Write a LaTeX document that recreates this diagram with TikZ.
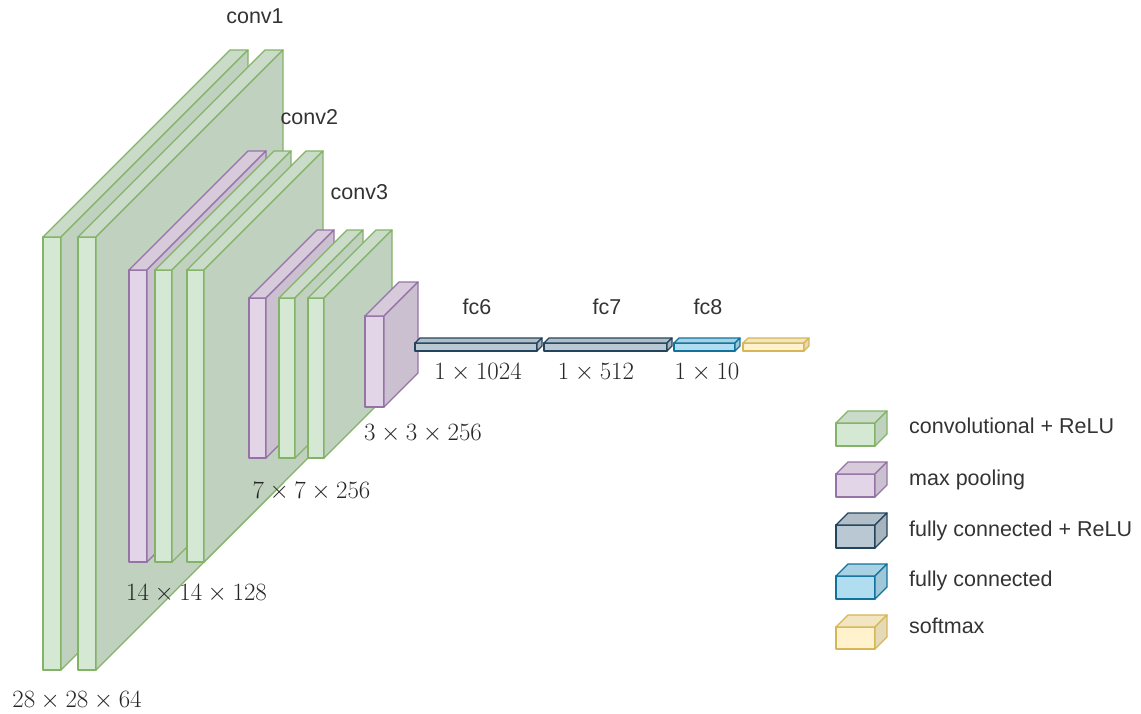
\documentclass[tikz,border=0pt]{standalone}
\usepackage{fontspec}
\newfontfamily\labelfont{Liberation Sans}
\definecolor{convF}{HTML}{D5E8D4}\definecolor{convD}{HTML}{82B366}
\definecolor{poolF}{HTML}{E1D5E7}\definecolor{poolD}{HTML}{9673A6}
\definecolor{fcrF}{HTML}{BAC8D3}\definecolor{fcrD}{HTML}{23445D}
\definecolor{fcF}{HTML}{B1DDF0}\definecolor{fcD}{HTML}{10739E}
\definecolor{smF}{HTML}{FFF2CC}\definecolor{smD}{HTML}{D6B656}
\definecolor{txt}{HTML}{333333}
\tikzset{
  face/.style={line width=1.3pt, line join=round},
  sanslabel/.style={font=\labelfont\fontsize{21.5}{26}\selectfont, text=txt, inner sep=0pt},
  dimlabel/.style={font=\fontsize{24}{28}\selectfont, text=black!85, inner sep=0pt, anchor=base},
}
% x1, y1 (top), x2, y2 (bottom), depth, colour prefix
\newcommand\drawcuboid[6]{%
  \filldraw[face, draw=#6D, fill=#6F] (#1,#2) rectangle (#3,#4);
  \filldraw[face, draw=#6D, fill=#6F!95!black] (#1,#2) -- ({#1+#5},{#2-#5}) -- ({#3+#5},{#2-#5}) -- (#3,#2) -- cycle;
  \filldraw[face, draw=#6D, fill=#6F!90!black] (#3,#2) -- ({#3+#5},{#2-#5}) -- ({#3+#5},{#4-#5}) -- (#3,#4) -- cycle;
}
\begin{document}
\begin{tikzpicture}[x=1pt, y=-1pt]
\useasboundingbox (0,0) rectangle (1141,713);
% conv1
\drawcuboid{43}{237}{61}{670}{187}{conv}
\drawcuboid{78}{237}{96}{670}{187}{conv}
% pool + conv2
\drawcuboid{129}{270}{147}{562}{119}{pool}
\drawcuboid{155}{270}{172}{562}{119}{conv}
\drawcuboid{187}{270}{204}{562}{119}{conv}
% pool + conv3
\drawcuboid{249}{298}{266}{458}{68}{pool}
\drawcuboid{279}{298}{295}{458}{68}{conv}
\drawcuboid{308}{298}{324}{458}{68}{conv}
% pool
\drawcuboid{365}{316}{384}{407}{34}{pool}
% fully connected
\drawcuboid{415}{343}{537}{351}{5}{fcr}
\drawcuboid{544}{343}{667}{351}{5}{fcr}
\drawcuboid{674}{343}{735}{351}{5}{fc}
\drawcuboid{743}{343}{804}{351}{5}{sm}
% legend
\drawcuboid{836}{423}{875}{446}{12}{conv}
\drawcuboid{836}{474}{875}{497}{12}{pool}
\drawcuboid{836}{525}{875}{548}{12}{fcr}
\drawcuboid{836}{576}{875}{599}{12}{fc}
\drawcuboid{836}{627}{875}{649}{12}{sm}
\node[sanslabel, anchor=base west] (lg1) at (909,433.5) {convolutional + ReLU};
\node[sanslabel, anchor=base west] (lg2) at (909,485) {max pooling};
\node[sanslabel, anchor=base west] (lg3) at (909,536.5) {fully connected + ReLU};
\node[sanslabel, anchor=base west] (lg4) at (909,586) {fully connected};
\node[sanslabel, anchor=base west] (lg5) at (909,633.5) {softmax};
% layer names
\node[sanslabel, anchor=base] (c1) at (255,23.5) {conv1};
\node[sanslabel, anchor=base west] (c2) at (280.5,124) {conv2};
\node[sanslabel, anchor=base west] (c3) at (330.5,199) {conv3};
\node[sanslabel, anchor=base] (f6) at (477,314) {fc6};
\node[sanslabel, anchor=base] (f7) at (607,314) {fc7};
\node[sanslabel, anchor=base] (f8) at (708,314) {fc8};
% dimensions
\node[dimlabel] (d1) at (478,379.5) {$1\times1024$};
\node[dimlabel] (d2) at (596,379.5) {$1\times512$};
\node[dimlabel] (d3) at (707,379.5) {$1\times10$};
\node[dimlabel] (d4) at (423,440) {$3\times3\times256$};
\node[dimlabel] (d5) at (311.5,498) {$7\times7\times256$};
\node[dimlabel] (d6) at (196.5,600.5) {$14\times14\times128$};
\node[dimlabel] (d7) at (77,707) {$28\times28\times64$};
\end{tikzpicture}
\end{document}
